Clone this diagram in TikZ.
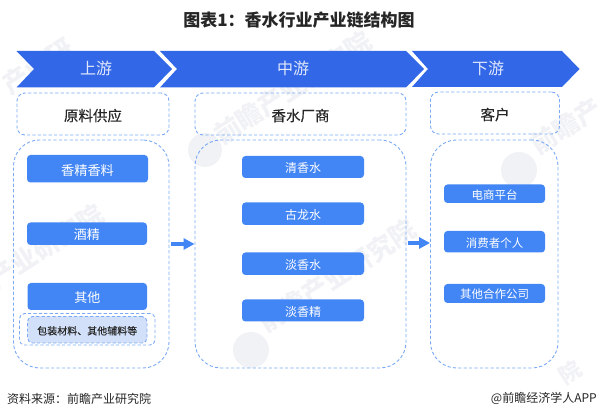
\documentclass[tikz,border=0pt]{standalone}
\usepackage{fontspec}
\setmainfont{Noto Sans CJK SC}
\newfontfamily\medfont[FakeBold=0.25]{Noto Sans CJK SC}
\usetikzlibrary{arrows.meta,calc}
\definecolor{chev}{HTML}{3267E8}
\definecolor{dashb}{HTML}{7BA9F5}
\definecolor{fillb}{HTML}{4285F4}
\definecolor{pale}{HTML}{D2E1F9}
\definecolor{wm}{HTML}{F1F2F5}
\tikzset{
  x=1pt,y=-1pt,
  fs/.style={font=\fontsize{#1}{#1}\selectfont},
  bt/.style={font=\fontsize{#1}{#1}\selectfont,text height=#1*0.95pt,text depth=0pt},
  fm/.style={font=\fontsize{#1}{#1}\selectfont\medfont,text height=#1*0.98pt,text depth=0pt},
  chevron/.style={fill=chev,draw=none},
  chevlabel/.style={text=white!85!chev,fs=16},
  dashbox/.style={draw=dashb,line width=0.9pt,dash pattern=on 3.2pt off 2.2pt,rounded corners=#1,inner sep=0pt},
  bluebox/.style={fill=fillb,rounded corners=3.5pt,text=white,inner sep=0pt},
  flowarrow/.style={draw=fillb,line width=4pt,-{Triangle[length=11pt,width=11pt]}},
  watermark/.style={text=wm,font=\fontsize{#1}{#1}\selectfont\bfseries,rotate=33,inner sep=0pt},
  plain/.style={text=black!85,inner sep=0pt}
}
% box between two corners, text centred
\newcommand{\boxat}[5]{\node[#1,minimum width=#4-#2,minimum height=#5-#3] at ({(#2+#4)/2},{(#3+#5)/2})}
\begin{document}
\begin{tikzpicture}
\useasboundingbox (0,0) rectangle (598,419);
% watermarks
\node[watermark=26] (wa) at (38,66) {产业研};
\node[watermark=26] (wb) at (293,88) {前瞻产业研究院};
\node[watermark=26] (wc) at (46,246) {产业研究院};
\node[watermark=26] (wd) at (337,276) {前瞻产业研究院};
\node[watermark=26] (we) at (566,126) {前瞻产};
\node[watermark=22] (wf) at (570,372) {院};
\fill[wm] (205,150) circle (17);
\fill[wm] (251,350) circle (18);
\fill[wm] (519,170) circle (18);
% title
\node[plain,font=\fontsize{17}{17}\selectfont\bfseries] (title) at (299,20) {图表1：香水行业产业链结构图};
% chevrons
\fill[chevron] (16.5,51) -- (154,51) -- (172,69) -- (154,87.5) -- (16.5,87.5) -- (34,69) -- cycle;
\fill[chevron] (160,51) -- (406,51) -- (424,69) -- (406,87.5) -- (160,87.5) -- (177,69) -- cycle;
\fill[chevron] (412,51) -- (562,51) -- (579.5,69) -- (562,87) -- (412,87) -- (428,69) -- cycle;
\node[chevlabel] (up) at (96,68) {上游};
\node[chevlabel] (mid) at (293,68) {中游};
\node[chevlabel] (down) at (488,68) {下游};
% headers
\boxat{dashbox=8pt,plain,fm=14.5}{17}{93}{169}{135} (h1) {原料供应};
\boxat{dashbox=8pt,plain,fm=14.5}{195}{93}{406}{135} (h2) {香水厂商};
\boxat{dashbox=8pt,plain,fm=14.5}{430.5}{92}{559.5}{134} (h3) {客户};
% large panels
\boxat{dashbox=26pt}{13.5}{140}{169}{368} (p1) {};
\boxat{dashbox=26pt}{195}{140}{406}{368} (p2) {};
\boxat{dashbox=26pt}{430.5}{140}{558}{368} (p3) {};
% left items
\boxat{bluebox,bt=13.2}{27}{155}{148}{182.5} (a1) {香精香料};
\boxat{bluebox,bt=13}{27}{222.5}{147}{245} (a2) {酒精};
\boxat{bluebox,bt=13}{27.5}{283}{147}{310} (a3) {其他};
\boxat{dashbox=5pt}{19.5}{313.5}{155}{345} (a4) {};
\boxat{dashbox=5pt,fill=pale,plain,fm=10}{27.5}{316.5}{147}{343} (a5) {包装材料、其他辅料等};
% middle items
\boxat{bluebox,bt=12}{242}{156}{364}{178} (b1) {清香水};
\boxat{bluebox,bt=12}{242}{202.5}{364}{225} (b2) {古龙水};
\boxat{bluebox,bt=12}{242}{252.5}{364}{275} (b3) {淡香水};
\boxat{bluebox,bt=12}{242}{299.5}{364}{321.5} (b4) {淡香精};
% right items
\boxat{bluebox,bt=11.5}{444}{184.5}{545}{203} (c1) {电商平台};
\boxat{bluebox,bt=11.5}{444}{231}{545}{252.5} (c2) {消费者个人};
\boxat{bluebox,bt=11.5}{444}{284}{545}{303} (c3) {其他合作公司};
% connectors
\coordinate (s1) at ($(p1.east)+(2,-10)$);
\coordinate (e1) at ($(p2.west)+(0,-10)$);
\coordinate (s2) at ($(p2.east)+(2,-11)$);
\coordinate (e2) at ($(p3.west)+(0,-11)$);
\draw[flowarrow] (s1) -- (e1);
\draw[flowarrow] (s2) -- (e2);
% footer
\node[plain,fs=12,anchor=west] (src) at (7,398.5) {资料来源：前瞻产业研究院};
\node[plain,fs=12,anchor=east] (brand) at (597,398.5) {@前瞻经济学人APP};
\end{tikzpicture}
\end{document}
